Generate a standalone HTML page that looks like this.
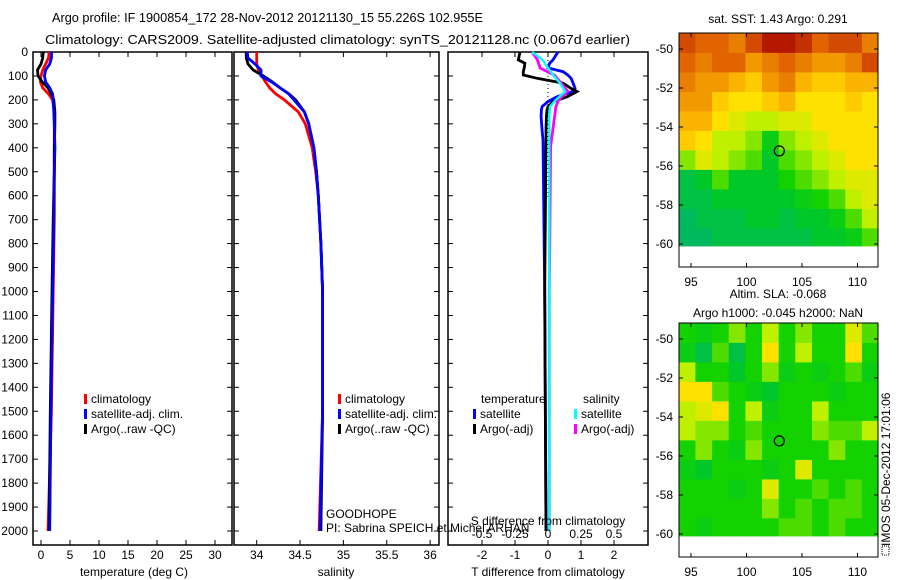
<!DOCTYPE html>
<html><head><meta charset="utf-8"><style>
body{margin:0;background:#fff;}
svg{display:block;font-family:"Liberation Sans",sans-serif;font-size:12px;}
</style></head><body>
<svg id="c" width="900" height="580" viewBox="0 0 900 580" xmlns="http://www.w3.org/2000/svg">
<text x="52" y="22" textLength="431" lengthAdjust="spacingAndGlyphs" font-size="13">Argo profile: IF 1900854_172 28-Nov-2012 20121130_15 55.226S 102.955E</text>
<text x="45" y="44" textLength="585" lengthAdjust="spacingAndGlyphs" font-size="13">Climatology: CARS2009. Satellite-adjusted climatology: synTS_20121128.nc (0.067d earlier)</text>
</svg>
<script>
// ---------- data ----------
const tDepths=[0,25,50,75,100,125,150,175,200,250,300,400,500,700,1000,1500,2000];
const tArgo=[0.4,0.3,0.0,-0.6,-0.5,0.2,1.2,1.8,2.2,2.4,2.4,2.3,2.3,2.1,1.9,1.6,1.4];
const tClim=[1.4,1.3,0.8,0.3,0.0,-0.1,0.3,1.3,2.0,2.3,2.3,2.3,2.3,2.3,2.1,1.8,1.2];
const tSat=[1.85,1.8,1.5,0.8,0.6,0.8,1.5,2.0,2.1,2.2,2.3,2.4,2.3,2.2,2.0,1.7,1.5];
const sDepths=[0,25,50,75,100,125,150,175,200,250,300,400,500,600,800,1000,1500,2000];
const sArgo=[33.88,33.88,33.9,33.96,34.08,34.18,34.27,34.37,34.45,34.55,34.6,34.66,34.69,34.71,34.74,34.76,34.76,34.74];
const sClim=[34.0,34.0,34.0,34.02,34.06,34.1,34.15,34.22,34.32,34.48,34.56,34.64,34.68,34.71,34.74,34.76,34.76,34.72];
const sSat=[33.89,33.9,33.98,34.05,34.05,34.17,34.27,34.37,34.43,34.55,34.6,34.66,34.69,34.71,34.74,34.76,34.76,34.73];
const dTDepths=[0,33,47,67,82,96,110,130,152,165,187,207,228,242,270,326,367,1000,2000];
const dTArgo=[-0.85,-0.9,-0.7,-0.72,-0.75,-0.75,-0.33,0.45,0.7,0.88,0.58,0.15,0.0,-0.03,-0.05,-0.06,-0.06,-0.1,-0.06];
const dTSat=[0.3,0.15,0.05,0.0,0.45,0.6,0.7,0.76,0.82,0.75,0.27,0.0,-0.18,-0.2,-0.21,-0.18,-0.15,-0.1,-0.06];
const dSDepths=[0,33,67,97,130,165,200,228,270,395,1000,2000];
const dSArgo=[-0.12,-0.08,-0.06,0.05,0.1,0.15,0.08,0.06,0.05,0.02,0.01,0.01];
const dSSat=[-0.12,-0.04,0.0,0.04,0.09,0.13,0.06,0.015,0.01,0.01,0.01,0.01];
const depthTicks=[0,100,200,300,400,500,600,700,800,900,1000,1100,1200,1300,1400,1500,1600,1700,1800,1900,2000];
const tTicks=[0,5,10,15,20,25,30];
const sTicks=[34,34.5,35,35.5,36];
const dTTicks=[-2,-1,0,1,2];
const dSTicks=[-0.5,-0.25,0,0.25,0.5];
const dSTickLabels=["-0.5","-0.25","0","0.25","0.5"];
const lonTicks=[95,100,105,110];
const latTicks=[-50,-52,-54,-56,-58,-60];
const mapLonEdges=[93.9,95.4,96.9,98.4,99.9,101.4,102.9,104.4,105.9,107.4,108.9,110.4,111.8];
const mapLatEdges=[-49.2,-50.2,-51.2,-52.2,-53.2,-54.2,-55.2,-56.2,-57.2,-58.2,-59.2,-60.1];
const sstGrid=[
[0.85,0.8,0.8,0.75,0.85,0.95,0.95,0.9,0.8,0.85,0.85,0.75],
[0.8,0.75,0.8,0.8,0.7,0.75,0.8,0.75,0.7,0.7,0.75,0.85],
[0.75,0.7,0.7,0.65,0.6,0.7,0.75,0.65,0.6,0.6,0.65,0.65],
[0.7,0.7,0.6,0.55,0.55,0.6,0.65,0.55,0.55,0.55,0.6,0.55],
[0.65,0.65,0.55,0.5,0.45,0.45,0.5,0.5,0.55,0.55,0.55,0.55],
[0.6,0.55,0.45,0.45,0.4,0.25,0.4,0.45,0.5,0.55,0.55,0.55],
[0.4,0.5,0.45,0.4,0.35,0.2,0.35,0.4,0.45,0.5,0.55,0.55],
[0.15,0.2,0.35,0.2,0.2,0.2,0.3,0.35,0.4,0.45,0.5,0.5],
[0.15,0.15,0.2,0.2,0.2,0.2,0.2,0.25,0.3,0.35,0.45,0.5],
[0.1,0.15,0.15,0.15,0.2,0.2,0.15,0.2,0.2,0.25,0.35,0.45],
[0.1,0.1,0.15,0.15,0.15,0.15,0.15,0.15,0.2,0.2,0.25,0.35]];
const slaGrid=[
[0.3,0.25,0.3,0.4,0.3,0.45,0.3,0.4,0.3,0.3,0.5,0.35],
[0.25,0.15,0.35,0.15,0.3,0.55,0.3,0.45,0.3,0.3,0.55,0.3],
[0.45,0.3,0.3,0.2,0.3,0.4,0.25,0.3,0.25,0.3,0.35,0.25],
[0.55,0.55,0.35,0.3,0.25,0.2,0.3,0.3,0.3,0.25,0.3,0.3],
[0.45,0.5,0.55,0.3,0.45,0.25,0.3,0.3,0.45,0.3,0.3,0.3],
[0.45,0.4,0.4,0.3,0.35,0.3,0.3,0.3,0.4,0.35,0.35,0.45],
[0.3,0.4,0.3,0.25,0.4,0.3,0.3,0.3,0.3,0.4,0.3,0.3],
[0.25,0.2,0.3,0.3,0.3,0.25,0.3,0.5,0.3,0.3,0.3,0.3],
[0.3,0.3,0.3,0.25,0.3,0.5,0.3,0.3,0.35,0.3,0.35,0.3],
[0.3,0.3,0.3,0.3,0.3,0.4,0.3,0.35,0.3,0.35,0.35,0.3],
[0.3,0.25,0.3,0.3,0.3,0.3,0.35,0.35,0.3,0.35,0.3,0.3]];
const argoLon=102.955, argoLat=-55.226;

// ---------- helpers ----------
const svg=document.getElementById('c');
const NS='http://www.w3.org/2000/svg';
function mk(tag,attrs,parent){const e=document.createElementNS(NS,tag);for(const k in attrs)e.setAttribute(k,attrs[k]);(parent||svg).appendChild(e);return e;}
const yD=d=>52+d*0.2395;
const PB=545;
const xT=v=>41+v*5.8;
const xS=v=>256.7+(v-34)*86.7;
const xDT=v=>548+v*33;
const xDS=v=>548+v*132;

function panel(name,x0,x1){
  const g=mk('g',{});
  
  
  const r=mk('rect',{x:x0,y:52,width:x1-x0,height:PB-52,fill:'none',stroke:'#000','stroke-width':1.5},g);
  
  
  depthTicks.forEach(d=>{
    mk('line',{x1:x0,x2:x0+5,y1:yD(d),y2:yD(d),stroke:'#000'},g);
    mk('line',{x1:x1-5,x2:x1,y1:yD(d),y2:yD(d),stroke:'#000'},g);
  });
  return g;
}
function xticks(g,ticks,fx,labels,y,nameBase){
  ticks.forEach((t,i)=>{
    const x=fx(t);
    mk('line',{x1:x,x2:x,y1:52,y2:57,stroke:'#000'},g);
    mk('line',{x1:x,x2:x,y1:PB-5,y2:PB,stroke:'#000'},g);
    const tx=mk('text',{x:x,y:y,'text-anchor':'middle'},g);
    tx.textContent=labels?labels[i]:String(t);
    
    
  });
}
function line(g,xs,ds,fx,color,name,w){
  const p=xs.map((v,i)=>(i?'L':'M')+fx(v).toFixed(1)+','+yD(ds[i]).toFixed(1)).join(' ');
  const e=mk('path',{d:p,fill:'none',stroke:color,'stroke-width':w||2.8,'stroke-linejoin':'miter'},g);
  
  
}
function legend(g,x,y,items){
  items.forEach((it,i)=>{
    const yy=y+i*15;
    const b=mk('rect',{x:x,y:yy-9,width:3,height:10,fill:it[1]},g);
    
    
    const t=mk('text',{x:x+7,y:yy},g);
    t.textContent=it[0];
    
    
  });
}
function label(g,x,y,txt,name,anchor,extra){
  const t=mk('text',Object.assign({x:x,y:y,'text-anchor':anchor||'start'},extra||{}),g);
  t.textContent=txt;
  
  
  return t;
}

// depth labels
depthTicks.forEach(d=>{
  const t=mk('text',{x:28,y:yD(d)+4,'text-anchor':'end'});
  t.textContent=String(d);
  
  
});

// panel 1 temperature
const g1=panel('temperature-panel',33,232);
xticks(g1,tTicks,xT,null,559,'temperature');
line(g1,tClim,tDepths,xT,'#f00','temperature-climatology-line');
line(g1,tSat,tDepths,xT,'#00f','temperature-satellite-line');
line(g1,tArgo,tDepths,xT,'#000','temperature-argo-line');
line(g1,tSat,tDepths,xT,'#00f','temperature-satellite-line-top',2.4);
legend(g1,84,403,[['climatology','#f00'],['satellite-adj. clim.','#00f'],['Argo(..raw -QC)','#000']]);
label(g1,134,576,'temperature (deg C)','temperature-axis-title','middle');

// panel 2 salinity
const g2=panel('salinity-panel',234,439);
xticks(g2,sTicks,xS,null,559,'salinity');
line(g2,sClim,sDepths,xS,'#f00','salinity-climatology-line');
line(g2,sArgo,sDepths,xS,'#000','salinity-argo-line');
line(g2,sSat,sDepths,xS,'#00f','salinity-satellite-line');
legend(g2,338,403,[['climatology','#f00'],['satellite-adj. clim.','#00f'],['Argo(..raw -QC)','#000']]);
label(g2,336,576,'salinity','salinity-axis-title','middle');
label(g2,326,518,'GOODHOPE','project-label');
label(g2,326,532,'PI: Sabrina SPEICH et Michel ARHAN','pi-label');

// panel 3 differences
const g3=panel('difference-panel',448,648);
xticks(g3,dTTicks,xDT,null,559,'t-difference');
mk('line',{x1:548,x2:548,y1:52,y2:200,stroke:'#000','stroke-dasharray':'1,3'},g3);
line(g3,dTSat,dTDepths,xDT,'#00f','t-difference-satellite-line');
line(g3,dTArgo,dTDepths,xDT,'#000','t-difference-argo-line');
line(g3,dSArgo,dSDepths,xDS,'#f0f','s-difference-argo-line');
line(g3,dSSat,dSDepths,xDS,'#0ff','s-difference-satellite-line',2.4);
label(g3,481,403,'temperature','legend-temperature-heading');
label(g3,583,403,'salinity','legend-salinity-heading');
legend(g3,473,418,[['satellite','#00f'],['Argo(-adj)','#000']]);
legend(g3,574,418,[['satellite','#0ff'],['Argo(-adj)','#f0f']]);
label(g3,548,525,'S difference from climatology','s-difference-axis-title','middle');
dSTicks.forEach((t,i)=>{
  const tx=mk('text',{x:xDS(t),y:538,'text-anchor':'middle'},g3);
  tx.textContent=dSTickLabels[i];
  
  
});
label(g3,548,576,'T difference from climatology','t-difference-axis-title','middle');

// ---------- maps ----------
function cmap(v){
  const stops=[[0,[0,170,150]],[0.2,[0,200,40]],[0.3,[20,210,0]],[0.45,[190,240,0]],[0.55,[255,225,0]],[0.65,[250,180,0]],[0.8,[225,100,0]],[1,[165,0,0]]];
  for(let i=1;i<stops.length;i++){if(v<=stops[i][0]){const a=stops[i-1],b=stops[i],f=(v-a[0])/(b[0]-a[0]);return 'rgb('+a[1].map((c,k)=>Math.round(c+(b[1][k]-c)*f)).join(',')+')';}}
  return 'rgb(165,0,0)';
}
function mapPanel(name,top,grid,title1,title2){
  const lonX=l=>691+(l-95)*11.1;
  const latY=l=>top+16+(-50-l)*19.5;
  const g=mk('g',{});
  
  
  grid.forEach((row,r)=>row.forEach((v,c)=>{
    const x0=lonX(mapLonEdges[c]),x1=lonX(mapLonEdges[c+1]);
    const y0=latY(mapLatEdges[r]),y1=latY(mapLatEdges[r+1]);
    const e=mk('rect',{x:x0.toFixed(1),y:y0.toFixed(1),width:(x1-x0+0.5).toFixed(1),height:(y1-y0+0.5).toFixed(1),fill:cmap(v)},g);
    
    
  }));
  const fr=mk('rect',{x:679,y:top,width:199,height:234,fill:'none',stroke:'#000'},g);
  
  
  lonTicks.forEach(l=>{
    mk('line',{x1:lonX(l),x2:lonX(l),y1:top,y2:top+4,stroke:'#000'},g);
    mk('line',{x1:lonX(l),x2:lonX(l),y1:top+230,y2:top+234,stroke:'#000'},g);
    label(g,lonX(l),top+253,String(l),'longitude-tick-label','middle');
  });
  latTicks.forEach(l=>{
    mk('line',{x1:679,x2:683,y1:latY(l),y2:latY(l),stroke:'#000'},g);
    mk('line',{x1:874,x2:878,y1:latY(l),y2:latY(l),stroke:'#000'},g);
    label(g,673,latY(l)+4,String(l),'latitude-tick-label','end');
  });
  const c=mk('circle',{cx:lonX(argoLon),cy:latY(argoLat),r:5,fill:'none',stroke:'#000','stroke-width':1.2},g);
  
  
  label(g,778,top-10-(title2?15:0),title1,name+'-title','middle');
  if(title2)label(g,778,top-6,title2,name+'-subtitle','middle');
}
mapPanel('sst-map',33,sstGrid,'sat. SST: 1.43 Argo: 0.291');
mapPanel('sla-map',323,slaGrid,'Altim. SLA: -0.068','Argo h1000: -0.045 h2000: NaN');
label(svg,0,0,'IMOS 05-Dec-2012 17:01:06','imos-timestamp','start',{transform:'translate(890,546) rotate(-90)'});
const box=mk('rect',{x:882,y:546,width:7,height:9,fill:'none',stroke:'#000','stroke-dasharray':'1,1'});


</script>
</body></html>
